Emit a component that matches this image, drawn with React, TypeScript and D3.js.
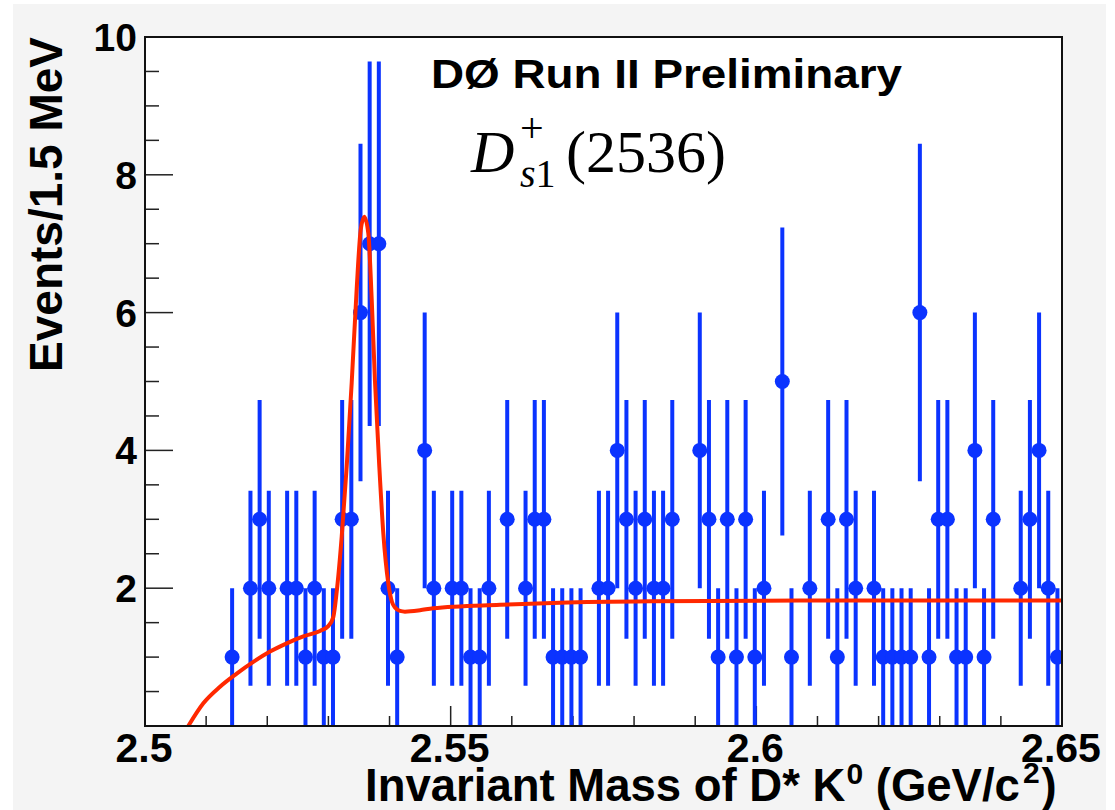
import React from "react";
import * as d3 from "d3";

// ---- data ----
const histMin = 2.5;
const histMax = 2.65;
const binWidth = 0.0015;
const counts = [
  0, 0, 0, 0, 0, 0, 0, 0, 0, 1,
  0, 2, 3, 2, 0, 2, 2, 1, 2, 1,
  1, 3, 3, 6, 7, 7, 2, 1, 0, 0,
  4, 2, 0, 2, 2, 1, 1, 2, 0, 3,
  0, 2, 3, 3, 1, 1, 1, 1, 0, 2,
  2, 4, 3, 2, 3, 2, 2, 3, 0, 0,
  4, 3, 1, 3, 1, 3, 1, 2, 0, 5,
  1, 0, 2, 0, 3, 1, 3, 2, 0, 2,
  1, 1, 1, 1, 6, 1, 3, 3, 1, 1,
  4, 1, 3, 0, 0, 2, 3, 4, 2, 1,
];
const fitMass = [
  2.50708, 2.50954, 2.51227, 2.515, 2.51772, 2.52045, 2.52318, 2.52589, 2.52863,
  2.52998, 2.5308, 2.53136, 2.53218, 2.53299, 2.53381, 2.53463, 2.53528, 2.53587,
  2.53653, 2.53708, 2.53762, 2.53833, 2.53898, 2.5398, 2.5404, 2.54089, 2.54171,
  2.54253, 2.54498, 2.54711, 2.55807, 2.56788, 2.58261, 2.60714, 2.65,
];
const fitValue = [
  0, 0.33, 0.57, 0.76, 0.93, 1.08, 1.2, 1.3, 1.38,
  1.45, 1.58, 1.95, 2.75, 3.76, 4.98, 6.35, 7.2, 7.39,
  7.15, 6.2, 5.0, 3.76, 2.8, 2.07, 1.8, 1.72, 1.67,
  1.66, 1.68, 1.71, 1.76, 1.79, 1.81, 1.82, 1.82,
];
const yTickLabels = [2, 4, 6, 8, 10];
const xTickLabels = ["2.5", "2.55", "2.6", "2.65"];
const xTickValues = [2.5, 2.55, 2.6, 2.65];

// ---- layout ----
const W = 1115;
const H = 810;
const L = 145, R = 1062, T = 37, B = 726;
const BLUE = "#0b33ff";
const RED = "#ff2800";
const SANS = "'Liberation Sans', Arial, Helvetica, sans-serif";
const SERIF = "'Liberation Serif', 'Times New Roman', serif";

export default function App() {
  const x = d3.scaleLinear().domain([histMin, histMax]).range([L, R]);
  const y = d3.scaleLinear().domain([0, 10]).range([B, T]);

  const points = counts
    .map((c, i) => ({ m: histMin + binWidth * (i + 0.5), c }))
    .filter((p) => p.c > 0);

  const fitLine = d3
    .line<number>()
    .x((_, i) => x(fitMass[i]))
    .y((v) => y(v))
    .curve(d3.curveMonotoneX)(fitValue) as string;

  const yMinor = d3.range(0, 10.001, 0.5);
  const xMinor = d3.range(2.5, 2.6501, 0.01);

  return (
    <svg
      width={W}
      height={H}
      style={{ position: "absolute", left: 0, top: 0 }}
      xmlns="http://www.w3.org/2000/svg"
    >
      <rect x={0} y={0} width={W} height={H} fill="#ffffff" />
      <rect x={13} y={4} width={1093} height={H - 4} fill="#f4f4f4" />
      <rect x={L} y={T} width={R - L} height={B - T} fill="#ffffff" />
      <defs>
        <clipPath id="plotclip">
          <rect x={L} y={T} width={R - L} height={B - T} />
        </clipPath>
      </defs>

      {/* y ticks */}
      {yMinor.map((v, i) => {
        const major = Math.abs(v / 2 - Math.round(v / 2)) < 1e-6;
        return (
          <line
            key={"ym" + i}
            x1={L}
            x2={L + (major ? 28 : 14)}
            y1={y(v)}
            y2={y(v)}
            stroke="#222"
            strokeWidth={1.5}
          />
        );
      })}
      {/* x ticks */}
      {xMinor.map((v, i) => {
        const major = i % 5 === 0;
        return (
          <line
            key={"xm" + i}
            x1={x(v)}
            x2={x(v)}
            y1={B}
            y2={B - (major ? 20 : 10)}
            stroke="#222"
            strokeWidth={1.5}
          />
        );
      })}

      <g clipPath="url(#plotclip)">
        {/* error bars */}
        {points.map((p, i) => {
          const e = Math.sqrt(p.c);
          return (
            <line
              key={"e" + i}
              x1={x(p.m)}
              x2={x(p.m)}
              y1={y(Math.max(0, p.c - e))}
              y2={y(p.c + e)}
              stroke={BLUE}
              strokeWidth={4}
            />
          );
        })}
        {points.map((p, i) => (
          <circle key={"c" + i} cx={x(p.m)} cy={y(p.c)} r={7.5} fill={BLUE} />
        ))}
        <path d={fitLine} fill="none" stroke={RED} strokeWidth={4} strokeLinejoin="round" />
      </g>

      {/* frame */}
      <rect x={L} y={T} width={R - L} height={B - T} fill="none" stroke="#111" strokeWidth={2} />

      {/* y tick labels */}
      {yTickLabels.map((v) => (
        <text
          key={"yl" + v}
          x={L - 8}
          y={y(v)}
          dy="0.36em"
          textAnchor="end"
          fontFamily={SANS}
          fontWeight="bold"
          fontSize={39}
          fill="#000"
        >
          {v}
        </text>
      ))}
      {/* x tick labels */}
      {xTickLabels.map((t, i) => (
        <text
          key={"xl" + t}
          x={x(xTickValues[i]) - 1}
          y={762}
          textAnchor="middle"
          fontFamily={SANS}
          fontWeight="bold"
          fontSize={41}
          fill="#000"
        >
          {t}
        </text>
      ))}

      {/* axis titles */}
      <text
        transform={`translate(62, 37) rotate(-90)`}
        textAnchor="end"
        fontFamily={SANS}
        fontWeight="bold"
        fontSize={46}
        fill="#000"
      >
        Events/1.5 MeV
      </text>
      <text x={365} y={801} fontFamily={SANS} fontWeight="bold" fontSize={45.5} fill="#000">
        Invariant Mass of D* K
        <tspan fontSize={30} dy={-17} dx={1}>0</tspan>
        <tspan fontSize={45.5} dy={17}> (GeV/c</tspan>
        <tspan fontSize={30} dy={-18} dx={3}>2</tspan>
        <tspan fontSize={45.5} dy={18} dx={2}>)</tspan>
      </text>

      {/* title */}
      <text
        x={431}
        y={88}
        fontFamily={SANS}
        fontWeight="bold"
        fontSize={40}
        textLength={471}
        lengthAdjust="spacingAndGlyphs"
        fill="#000"
      >
        DØ Run II Preliminary
      </text>

      {/* D_s1^+(2536) */}
      <text x={471} y={172} fontFamily={SERIF} fontStyle="italic" fontSize={60} fill="#000">
        D
      </text>
      <text x={520} y={142} fontFamily={SERIF} fontSize={42} fill="#000">
        +
      </text>
      <text x={520} y={187} fontFamily={SERIF} fontSize={40} fill="#000">
        <tspan fontStyle="italic">s</tspan>
        <tspan>1</tspan>
      </text>
      <text x={566} y={172} fontFamily={SERIF} fontSize={60} fill="#000">
        (2536)
      </text>
    </svg>
  );
}
